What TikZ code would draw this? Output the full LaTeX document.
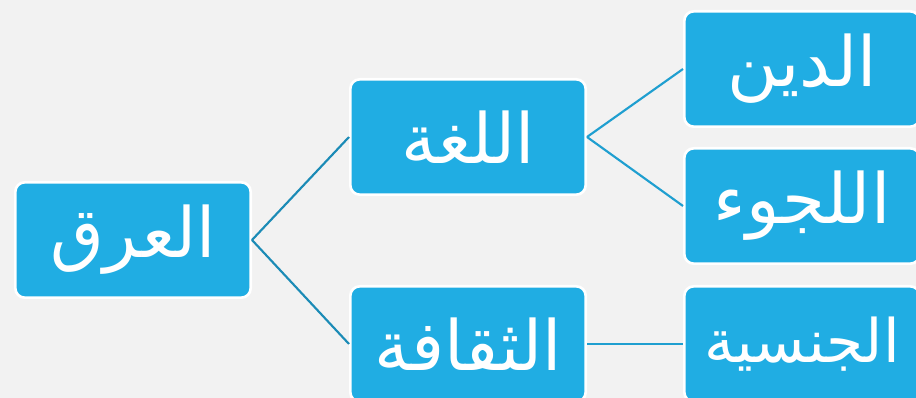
\documentclass[tikz,border=0pt]{standalone}
\usepackage{fontspec}
\newfontfamily\arabicfont[Script=Arabic]{DejaVu Sans}
\TeXXeTstate=1
\definecolor{boxblue}{RGB}{32,173,227}
\definecolor{bggray}{RGB}{242,242,242}
\definecolor{linkdark}{RGB}{27,139,182}
\definecolor{linklight}{RGB}{31,159,208}
\tikzset{every picture/.style={line width=0.75pt}}
\tikzset{
	topic/.style={draw=white, line width=2pt, fill=boxblue, rounded corners=7pt,
		minimum width=176.5pt, minimum height=86.5pt, inner sep=0pt,
		text=white, font=\arabicfont\fontsize{52}{60}\selectfont},
	narrow/.style={font=\arabicfont\fontsize{45}{52}\selectfont},
	link/.style={line width=1.6pt, draw=linkdark},
	sublink/.style={line width=1.6pt, draw=linklight}}

\begin{document}
\begin{tikzpicture}[x=0.75pt,y=0.75pt,yscale=-1,xscale=1]
	%Background
	\fill[bggray] (0,0) rectangle (916,398);
	\clip (0,0) rectangle (916,398);

	% Text Node
	\node[topic] (ethnic) at (133,240) {\beginR العرق\endR};
	% Text Node
	\node[topic] (language) at (468,137) {\beginR اللغة\endR};
	% Text Node
	\node[topic] (culture) at (468,344) {\beginR الثقافة\endR};
	% Text Node
	\node[topic] (religion) at (802,69) {\beginR الدين\endR};
	% Text Node
	\node[topic] (asylum) at (802,206) {\beginR اللجوء\endR};
	% Text Node
	\node[topic, narrow] (nationality) at (802,344) {\beginR الجنسية\endR};

	%Straight Lines
	\draw[link] (ethnic.east) -- (language.west);
	\draw[link] (ethnic.east) -- (culture.west);
	\draw[sublink] (language.east) -- (religion.west);
	\draw[sublink] (language.east) -- (asylum.west);
	\draw[sublink] (culture.east) -- (nationality.west);
\end{tikzpicture}
\end{document}
